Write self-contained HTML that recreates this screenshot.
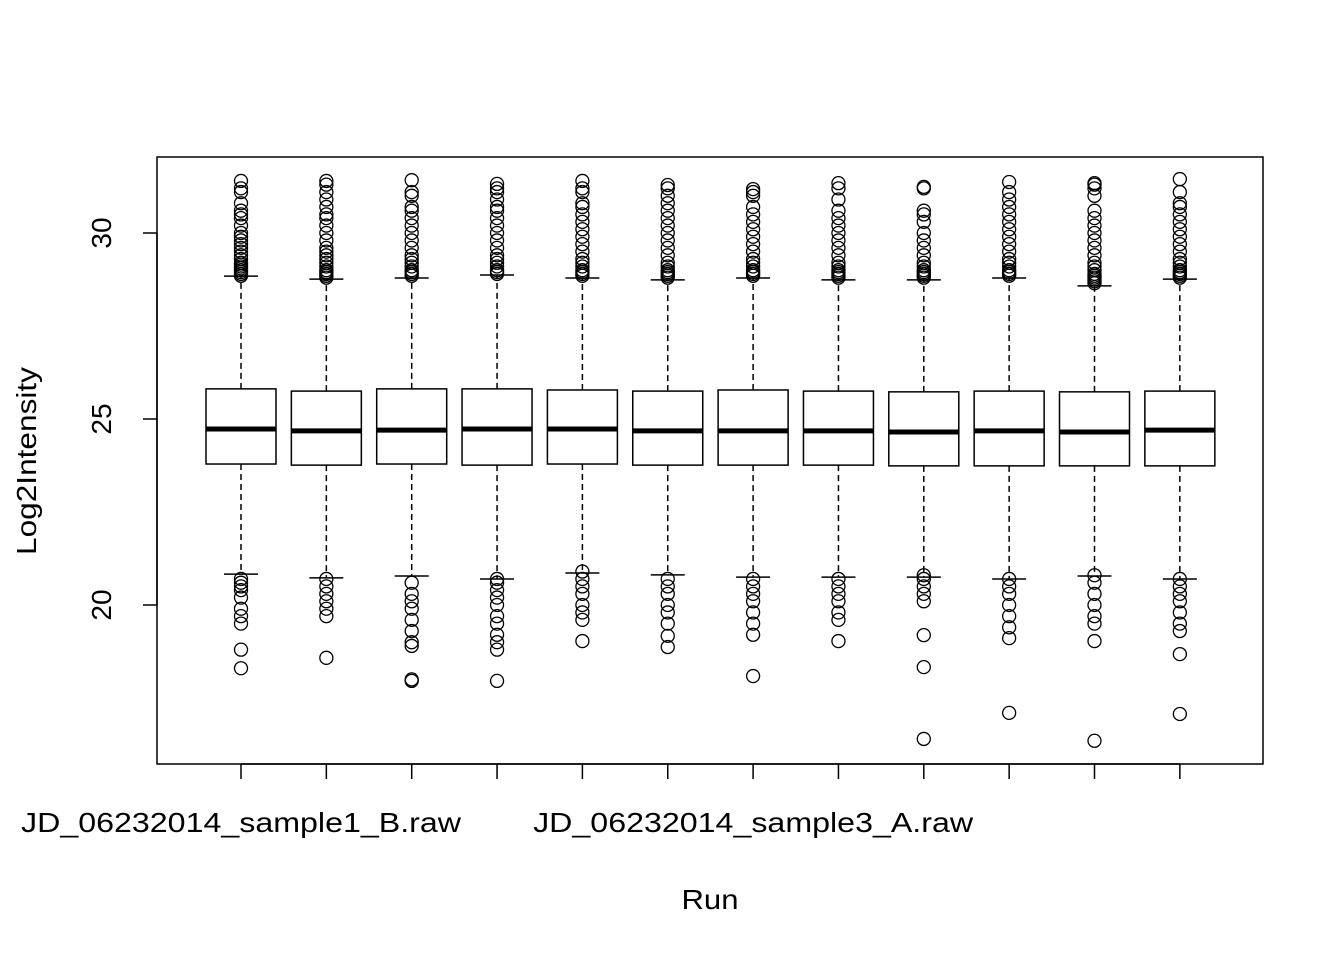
<!DOCTYPE html>
<html><head><meta charset="utf-8"><style>
body{margin:0;background:#fff}
svg text{font-family:"Liberation Sans",Arial,sans-serif;fill:#000}
</style></head><body>
<svg id="chart" width="1344" height="960" xmlns="http://www.w3.org/2000/svg">
<rect x="0" y="0" width="1344" height="960" fill="#fff"/>
<g id="marks"></g>
<rect x="157" y="157" width="1106" height="607" fill="none" stroke="#000" stroke-width="1.5"/>
<g id="axes"></g>
<text transform="translate(36,461) rotate(-90)" text-anchor="middle" font-size="28" textLength="188" lengthAdjust="spacingAndGlyphs">Log2Intensity</text>
<text x="710" y="909" text-anchor="middle" font-size="28" textLength="57" lengthAdjust="spacingAndGlyphs">Run</text>
</svg>
<script>
const runs = ["JD_06232014_sample1_B.raw","r2","r3","r4","r5","r6","JD_06232014_sample3_A.raw","r8","r9","r10","r11","r12"];
const shownLabels = [0, 6];
const q1 = [23.79,23.76,23.79,23.76,23.79,23.76,23.76,23.76,23.74,23.74,23.74,23.74];
const med = [24.73,24.68,24.70,24.73,24.73,24.68,24.68,24.68,24.65,24.68,24.65,24.70];
const q3 = [25.81,25.75,25.81,25.81,25.78,25.75,25.78,25.75,25.73,25.75,25.73,25.75];
const whiskLo = [20.83,20.73,20.78,20.70,20.86,20.81,20.75,20.75,20.75,20.70,20.78,20.70];
const whiskHi = [28.84,28.76,28.79,28.87,28.79,28.74,28.79,28.74,28.74,28.79,28.58,28.76];
const outMax = [31.40,31.40,31.42,31.32,31.40,31.29,31.18,31.34,31.24,31.37,31.34,31.45];
const highOut = [
 [28.85,28.9,28.95,29.0,29.05,29.1,29.15,29.2,29.3,29.4,29.5,29.6,29.7,29.8,29.9,30.0,30.2,30.4,30.5,30.6,30.8,31.1,31.2],
 [28.8,28.85,28.9,28.95,29.0,29.1,29.2,29.3,29.4,29.5,29.6,29.8,30.0,30.2,30.4,30.5,30.7,30.9,31.1,31.3],
 [28.85,28.9,28.95,29.0,29.1,29.2,29.3,29.4,29.6,29.8,30.0,30.2,30.4,30.6,30.7,31.0,31.1],
 [28.9,28.95,29.0,29.1,29.2,29.3,29.4,29.6,29.8,30.0,30.2,30.4,30.6,30.7,30.9,31.1,31.2],
 [28.85,28.9,28.95,29.0,29.1,29.2,29.3,29.5,29.7,29.9,30.1,30.3,30.5,30.7,30.8,31.1,31.2],
 [28.8,28.85,28.9,28.95,29.0,29.1,29.2,29.4,29.6,29.8,30.0,30.2,30.4,30.6,30.8,31.0,31.2],
 [28.85,28.9,28.95,29.0,29.1,29.2,29.3,29.5,29.7,29.9,30.1,30.3,30.5,30.7,31.0,31.1],
 [28.8,28.85,28.9,28.95,29.0,29.1,29.2,29.4,29.6,29.8,30.0,30.2,30.4,30.6,30.9,31.2],
 [28.8,28.85,28.9,28.95,29.0,29.1,29.2,29.4,29.6,29.8,30.0,30.3,30.5,30.6,31.2],
 [28.85,28.9,28.95,29.0,29.1,29.2,29.3,29.5,29.7,29.9,30.1,30.3,30.5,30.7,30.9,31.1],
 [28.65,28.7,28.75,28.8,28.85,28.9,29.0,29.1,29.2,29.4,29.6,29.8,30.0,30.2,30.4,30.6,31.0,31.2,31.3],
 [28.8,28.85,28.9,28.95,29.0,29.1,29.2,29.3,29.5,29.7,29.9,30.1,30.3,30.5,30.7,30.8,31.1]
];
const lowOut = [
 [20.7,20.6,20.5,20.4,20.2,19.9,19.7,19.5,18.8,18.3],
 [20.7,20.5,20.3,20.1,19.9,19.7,18.58],
 [20.6,20.3,20.1,19.9,19.6,19.3,19.0,18.9,18.0,17.96],
 [20.7,20.6,20.4,20.2,20.0,19.7,19.5,19.2,19.0,18.8,17.96],
 [20.9,20.7,20.5,20.3,20.0,19.8,19.6,19.03],
 [20.7,20.5,20.3,20.0,19.8,19.5,19.17,18.87],
 [20.7,20.5,20.3,20.1,19.8,19.5,19.2,18.09],
 [20.7,20.5,20.3,20.1,19.8,19.6,19.03],
 [20.8,20.7,20.5,20.3,20.1,19.19,18.33,16.40],
 [20.7,20.5,20.3,20.0,19.7,19.4,19.11,17.10],
 [20.8,20.6,20.3,20.0,19.7,19.5,19.03,16.35],
 [20.7,20.5,20.3,20.1,19.8,19.5,19.3,18.68,17.07]
];
const yTicks = [20,25,30];

const NS="http://www.w3.org/2000/svg";
const yScale = v => 419 - (v-25)*37.2;
const xScale = i => 241 + i*85.35;
const bw = 70;
const marks=document.getElementById('marks'), axes=document.getElementById('axes');
function mk(tag, attrs, parent){const e=document.createElementNS(NS,tag);for(const k in attrs)e.setAttribute(k,attrs[k]);parent.appendChild(e);return e;}

runs.forEach((r,i)=>{
  const g=mk('g',{},marks);
  
  
  const x=xScale(i);
  mk('line',{x1:x,x2:x,y1:yScale(q3[i]),y2:yScale(whiskHi[i]),stroke:'#000','stroke-width':1.5,'stroke-dasharray':'6,4'},g);
  mk('line',{x1:x,x2:x,y1:yScale(q1[i]),y2:yScale(whiskLo[i]),stroke:'#000','stroke-width':1.5,'stroke-dasharray':'6,4'},g);
  mk('line',{x1:x-17,x2:x+17,y1:yScale(whiskHi[i]),y2:yScale(whiskHi[i]),stroke:'#000','stroke-width':1.5},g);
  mk('line',{x1:x-17,x2:x+17,y1:yScale(whiskLo[i]),y2:yScale(whiskLo[i]),stroke:'#000','stroke-width':1.5},g);
  mk('rect',{x:x-bw/2,y:yScale(q3[i]),width:bw,height:yScale(q1[i])-yScale(q3[i]),fill:'#fff',stroke:'#000','stroke-width':1.5},g);
  mk('line',{x1:x-bw/2,x2:x+bw/2,y1:yScale(med[i]),y2:yScale(med[i]),stroke:'#000','stroke-width':5},g);
  highOut[i].concat([outMax[i]]).concat(lowOut[i]).forEach(v=>{
    const c=mk('circle',{cx:x,cy:yScale(v),r:6.5,fill:'none',stroke:'#000','stroke-width':1.3},g);
    
    
  });
  const t=mk('line',{x1:x,x2:x,y1:764,y2:779,stroke:'#000','stroke-width':1.5},axes);
  
  
});
mk('line',{x1:xScale(0),x2:xScale(11),y1:764,y2:764,stroke:'#000','stroke-width':1.5},axes);
shownLabels.forEach(i=>{
  const t=mk('text',{x:xScale(i),y:832,'text-anchor':'middle','font-size':28,textLength:440,lengthAdjust:'spacingAndGlyphs'},axes);
  t.textContent=runs[i];
  
  
});
mk('line',{x1:157,x2:157,y1:yScale(yTicks[0]),y2:yScale(yTicks[yTicks.length-1]),stroke:'#000','stroke-width':1.5},axes);
yTicks.forEach(v=>{
  const y=yScale(v);
  const l=mk('line',{x1:143,x2:157,y1:y,y2:y,stroke:'#000','stroke-width':1.5},axes);
  
  
  const t=mk('text',{transform:`translate(111,${y}) rotate(-90)`,'text-anchor':'middle','font-size':28},axes);
  t.textContent=v;
  
  
});
</script>
</body></html>
